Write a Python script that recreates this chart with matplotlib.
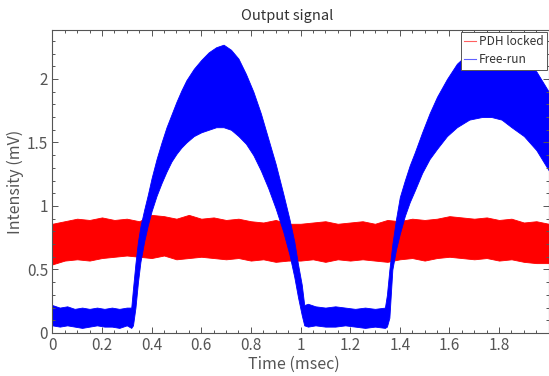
import matplotlib
matplotlib.use("Agg")
import matplotlib.pyplot as plt
from matplotlib.ticker import MultipleLocator, FuncFormatter

plt.rcParams['font.family'] = ['Noto Sans CJK JP', 'DejaVu Sans']

##############################################################################
### Data (envelopes) ###
# PDH locked: band edges every 0.05 msec
t_red = [0.00, 0.05, 0.10, 0.15, 0.20, 0.25, 0.30, 0.35, 0.40, 0.45,
         0.50, 0.55, 0.60, 0.65, 0.70, 0.75, 0.80, 0.85, 0.90, 0.95,
         1.00, 1.05, 1.10, 1.15, 1.20, 1.25, 1.30, 1.35, 1.40, 1.45,
         1.50, 1.55, 1.60, 1.65, 1.70, 1.75, 1.80, 1.85, 1.90, 1.95, 2.00]
red_upper = [0.86, 0.88, 0.90, 0.89, 0.91, 0.89, 0.90, 0.88, 0.93, 0.92,
             0.90, 0.93, 0.90, 0.91, 0.89, 0.90, 0.88, 0.87, 0.89, 0.86,
             0.86, 0.87, 0.88, 0.86, 0.87, 0.88, 0.86, 0.89, 0.88, 0.90,
             0.89, 0.90, 0.92, 0.91, 0.90, 0.91, 0.89, 0.90, 0.87, 0.88, 0.86]
red_lower = [0.54, 0.57, 0.58, 0.57, 0.59, 0.60, 0.61, 0.60, 0.59, 0.61,
             0.58, 0.59, 0.60, 0.59, 0.58, 0.59, 0.57, 0.58, 0.56, 0.57,
             0.57, 0.58, 0.56, 0.58, 0.57, 0.58, 0.57, 0.56, 0.58, 0.59,
             0.57, 0.59, 0.60, 0.59, 0.58, 0.59, 0.57, 0.58, 0.56, 0.55, 0.55]

# Free-run: band edges
t_blue = [0.000, 0.030, 0.060, 0.090, 0.120, 0.150, 0.180, 0.210, 0.240, 0.270,
          0.300, 0.318, 0.325, 0.335, 0.345, 0.355, 0.370, 0.385, 0.400, 0.420,
          0.440, 0.460, 0.480, 0.500, 0.520, 0.540, 0.570, 0.600, 0.630, 0.660,
          0.690, 0.720, 0.750, 0.780, 0.810, 0.840, 0.870, 0.900, 0.930, 0.955,
          0.975, 0.990, 1.005, 1.015, 1.030, 1.060, 1.100, 1.140, 1.180, 1.220,
          1.260, 1.300, 1.340, 1.348, 1.358, 1.370, 1.385, 1.400, 1.420, 1.440,
          1.460, 1.490, 1.520, 1.550, 1.590, 1.630, 1.680, 1.730, 1.770, 1.810,
          1.850, 1.900, 1.950, 2.000]
blue_upper = [0.22, 0.20, 0.21, 0.19, 0.20, 0.19, 0.20, 0.19, 0.20, 0.19,
              0.20, 0.20, 0.35, 0.55, 0.72, 0.84, 0.97, 1.09, 1.22, 1.37,
              1.50, 1.62, 1.72, 1.82, 1.91, 1.99, 2.08, 2.15, 2.21, 2.25,
              2.27, 2.23, 2.16, 2.04, 1.90, 1.73, 1.53, 1.33, 1.10, 0.90,
              0.72, 0.54, 0.38, 0.22, 0.23, 0.21, 0.20, 0.21, 0.20, 0.19,
              0.20, 0.19, 0.20, 0.30, 0.50, 0.70, 0.90, 1.07, 1.20, 1.32,
              1.42, 1.58, 1.73, 1.86, 2.00, 2.12, 2.21, 2.25, 2.24, 2.22,
              2.18, 2.13, 2.06, 1.90]
blue_lower = [0.06, 0.05, 0.06, 0.05, 0.04, 0.05, 0.06, 0.05, 0.05, 0.04,
              0.06, 0.04, 0.06, 0.20, 0.40, 0.56, 0.72, 0.85, 0.96, 1.08,
              1.18, 1.27, 1.35, 1.41, 1.46, 1.50, 1.55, 1.58, 1.60, 1.62,
              1.62, 1.60, 1.55, 1.49, 1.40, 1.28, 1.14, 0.98, 0.80, 0.62,
              0.44, 0.28, 0.14, 0.06, 0.05, 0.06, 0.05, 0.05, 0.06, 0.05,
              0.04, 0.05, 0.04, 0.05, 0.12, 0.50, 0.66, 0.78, 0.92, 1.03,
              1.12, 1.26, 1.37, 1.45, 1.55, 1.62, 1.68, 1.70, 1.70, 1.68,
              1.62, 1.55, 1.44, 1.28]

##############################################################################
### PLOT ###
fig = plt.figure(figsize=(5.49, 3.76), dpi=100)
ax = fig.add_axes([0.0953, 0.1144, 0.9042, 0.8056])

ax.fill_between(t_red, red_lower, red_upper, color='#ff0000', lw=0.6)
ax.fill_between(t_blue, blue_lower, blue_upper, color='#0000ff', lw=0.6)
# legend handles
ax.plot([], [], color='#ff6060', lw=0.8, label='PDH locked')
ax.plot([], [], color='#6060ff', lw=0.8, label='Free-run')

ax.set_xlim(0, 2)
ax.set_ylim(0, 2.385)
ax.xaxis.set_major_locator(MultipleLocator(0.2))
ax.xaxis.set_minor_locator(MultipleLocator(0.05))
ax.yaxis.set_major_locator(MultipleLocator(0.5))
ax.yaxis.set_minor_locator(MultipleLocator(0.1))
# the "2" label falls outside the cropped picture
xfmt = FuncFormatter(lambda v, p: '' if v > 1.95 else '%g' % round(v, 3))
yfmt = FuncFormatter(lambda v, p: '%g' % round(v, 3))
ax.xaxis.set_major_formatter(xfmt)
ax.yaxis.set_major_formatter(yfmt)

gray = '#555555'
ax.tick_params(which='both', direction='in', top=True, right=True,
               colors=gray, labelcolor='#555555', labelsize=11, width=0.7)
ax.tick_params(which='major', length=4, pad=3)
ax.tick_params(which='minor', length=2)
for s in ax.spines.values():
    s.set_color(gray)
    s.set_linewidth(0.8)

ax.set_title('Output signal', fontsize=10.5, color='#333333', pad=7, x=0.473)
ax.set_xlabel('Time (msec)', fontsize=11.5, color='#555555', labelpad=1, x=0.487)
ax.set_ylabel('Intensity (mV)', fontsize=11.5, color='#555555', labelpad=2)

leg = ax.legend(loc='upper right', fontsize=8.6, fancybox=False,
                framealpha=1, edgecolor=gray, handlelength=1.0,
                handletextpad=0.2, borderpad=0.3, labelspacing=0.4,
                borderaxespad=0.15)
leg.get_frame().set_linewidth(0.7)
for txt in leg.get_texts():
    txt.set_color('#333333')

fig.savefig('out.png', dpi=100)
